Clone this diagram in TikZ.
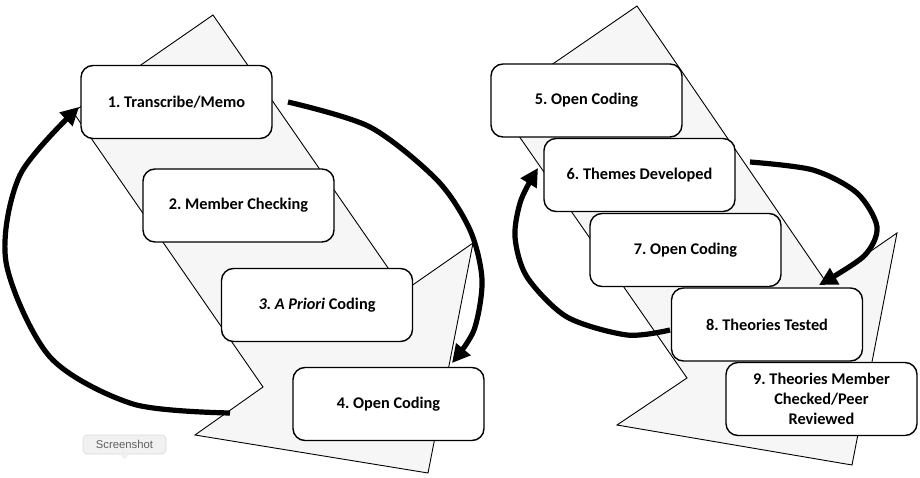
\documentclass[tikz,border=0pt]{standalone}
\usepackage{fontspec}
\setmainfont{Carlito}
\newfontfamily\tipfont{Liberation Sans}
\usetikzlibrary{arrows.meta}
\definecolor{shaftgray}{RGB}{246,246,246}
\definecolor{tipfill}{RGB}{241,241,241}
\definecolor{tipline}{RGB}{218,218,218}
\definecolor{tiptext}{RGB}{95,95,95}
\frenchspacing
\begin{document}
\begin{tikzpicture}[x=1pt,y=-1pt,
  bigarrow/.style={fill=shaftgray,draw=black,line width=0.9pt,line join=miter},
  stepbox/.style={draw=black,fill=white,line width=1.4pt,rounded corners=12pt,
    minimum width=191pt,minimum height=73pt,inner sep=2pt,align=center,
    font=\bfseries\fontsize{16.3}{20}\selectfont},
  loopline/.style={draw=black,line width=5.2pt,-{Triangle[length=18pt,width=18pt]}},
  tipbox/.style={draw=tipline,fill=tipfill,line width=0.6pt,rounded corners=4pt,
    minimum width=83pt,minimum height=19pt,inner sep=1pt,text=tiptext,
    font=\tipfont\fontsize{11.3}{13}\selectfont},
]
\useasboundingbox (0,0) rectangle (920,478);

% big process arrows
\path[bigarrow] (213,15) -- (404,291) -- (473,243) -- (428,473) -- (195,435) -- (263,387) -- (73,112) -- cycle;
\path[bigarrow] (637,6) -- (826,282) -- (897,233) -- (852,465) -- (617,425) -- (687,378) -- (496,103) -- cycle;

% boxes
\node[stepbox] (b1) at (176.5,102) {1. Transcribe/Memo};
\node[stepbox] (b2) at (238.5,205.5) {2. Member Checking};
\node[stepbox] (b3) at (317,305) {\textit{3. A Priori} Coding};
\node[stepbox] (b4) at (388.5,404) {4. Open Coding};
\node[stepbox] (b5) at (586.5,100.5) {5. Open Coding};
\node[stepbox] (b6) at (639.5,175) {6. Themes Developed};
\node[stepbox] (b7) at (685.5,250) {7. Open Coding};
\node[stepbox] (b8) at (767,324.5) {8. Theories Tested};
\node[stepbox] (b9) at (821.5,399) {9. Theories Member\\Checked/Peer\\Reviewed};

% loop end points
\coordinate (l1s) at (288,102);
\coordinate (l1e) at (452,363);
\coordinate (l2s) at (230,413);
\coordinate (l2e) at (79,107);
\coordinate (r1s) at (750,162);
\coordinate (r1e) at (819,285);
\coordinate (r2s) at (670,330);
\coordinate (r2e) at (538,168);

% loops
\draw[loopline] plot[smooth] coordinates {(l1s) (370,127) (437,180) (470,230) (482,280) (474,330) (l1e)};
\draw[loopline] plot[smooth] coordinates {(l2s) (133,404) (50,357) (6,262) (20,175) (l2e)};
\draw[loopline] plot[smooth] coordinates {(r1s) (813,170) (857,193) (877,227) (864,256) (r1e)};
\draw[loopline] plot[smooth] coordinates {(r2s) (627,335) (567,317) (527,277) (515,237) (521,200) (r2e)};

% tooltip
\node[tipbox] (tip) at (124.5,444.5) {Screenshot};
\fill[tipfill] ([xshift=-5pt,yshift=0.4pt]tip.south) -- ([xshift=5pt,yshift=0.4pt]tip.south) -- ([yshift=-5pt]tip.south) -- cycle;
\end{tikzpicture}
\end{document}
